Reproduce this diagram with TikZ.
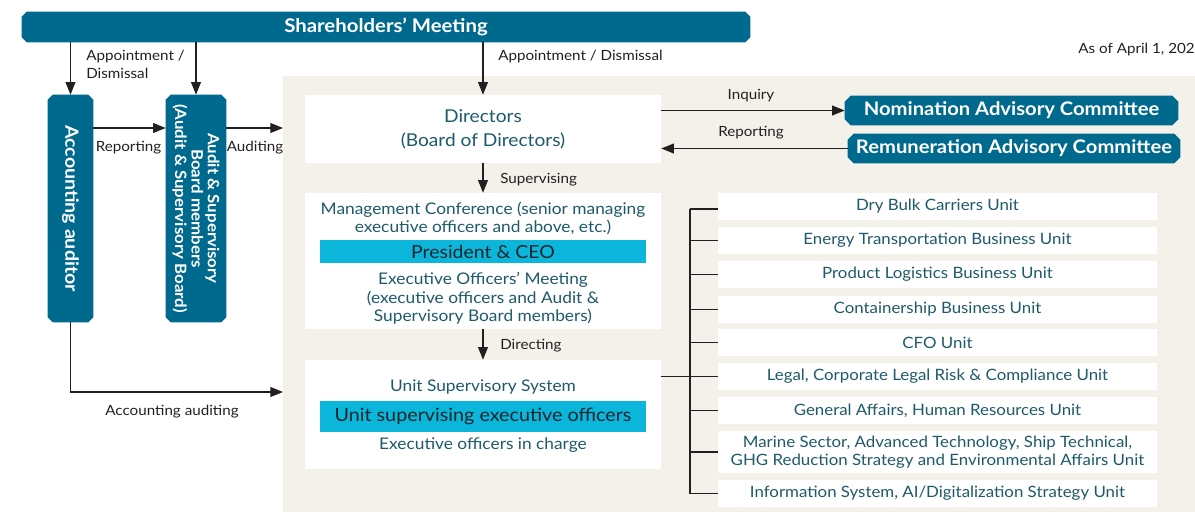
\documentclass[tikz,border=0pt]{standalone}
\usepackage{fontspec}
\setmainfont{Lato}[FakeStretch=1.08]
\usetikzlibrary{arrows.meta,calc,backgrounds}
\definecolor{dteal}{HTML}{006A8E}
\definecolor{cyanbar}{HTML}{0BB6DA}
\definecolor{tealtxt}{HTML}{1F5A6B}
\definecolor{beige}{HTML}{F4F1EA}
\definecolor{lbltxt}{HTML}{231F20}
\definecolor{bartxt}{HTML}{13262E}
\newcommand{\pp}[1]{#1*0.025cm}
\newcommand{\chamfbox}[2][5]{%
\begin{pgfonlayer}{background}
\fill[dteal] ($(#2.north west)+(#1,0)$) -- ($(#2.north east)+(-#1,0)$) -- ($(#2.north east)+(0,#1)$) -- ($(#2.south east)+(0,-#1)$) -- ($(#2.south east)+(-#1,0)$) -- ($(#2.south west)+(#1,0)$) -- ($(#2.south west)+(0,-#1)$) -- ($(#2.north west)+(0,#1)$) -- cycle;
\end{pgfonlayer}}
\begin{document}
\begin{tikzpicture}[x=0.025cm,y=-0.025cm,
  lbl/.style={font={\fontsize{10}{12.8}\selectfont}, text=lbltxt, inner sep=0, align=left},
  tbox/.style={fill=white, inner sep=0, text=tealtxt, align=center},
  ttxt/.style={inner sep=0, text=tealtxt, align=center},
  chbox/.style={inner sep=0, text=white, align=center, font={\bfseries\fontsize{13.3}{15}\selectfont}},
  cbar/.style={fill=cyanbar, inner sep=0, text=bartxt, minimum width=\pp{326}},
  unitbox/.style={fill=white, inner sep=0, text=tealtxt, align=center, minimum width=\pp{439}, minimum height=\pp{27}, font={\fontsize{11.1}{12.8}\selectfont}},
  arr/.style={line width=0.9pt, draw=lbltxt, -{Triangle[length=9pt,width=7pt]}},
  ln/.style={line width=0.9pt, draw=lbltxt}]
\useasboundingbox (0,0) rectangle (1195,512);
\begin{pgfonlayer}{background}
\fill[beige] (283,76) rectangle (1195,512);
\end{pgfonlayer}

% Shareholders
\node[chbox, minimum width=\pp{728}, minimum height=\pp{30}, font={\bfseries\fontsize{13.4}{15}\selectfont}] (sh) at (386,27) {Shareholders’ Meeting};
\chamfbox{sh}
\node[lbl, anchor=east] (asof) at (1195,50) {As of April 1, 202};

% Accounting auditor
\node[inner sep=0, minimum width=\pp{45}, minimum height=\pp{227}] (acct) at (70.5,208.5) {};
\chamfbox{acct}
\node[rotate=-90, inner sep=0, text=white, font={\bfseries\fontsize{12.9}{15}\selectfont}] (accttxt) at (acct) {Accounting auditor};

% Audit board
\node[inner sep=0, minimum width=\pp{60}, minimum height=\pp{227}] (aud) at (196,208.5) {};
\chamfbox{aud}
\node[rotate=-90, inner sep=0, text=white, align=center, font={\bfseries\fontsize{11.1}{11.6}\selectfont}] (audtxt) at (aud) {Audit \& Supervisory\\Board members\\(Audit \& Supervisory Board)};

% Directors
\node[tbox, minimum width=\pp{356}, minimum height=\pp{68}, font={\fontsize{12.6}{17}\selectfont}] (dir) at (483,129) {Directors\\(Board of Directors)};

% Management box
\node[fill=white, inner sep=0, minimum width=\pp{356}, minimum height=\pp{136}] (mgmt) at (483,261) {};
\node[ttxt, font={\fontsize{11.4}{13.4}\selectfont}] (mc) at (483,218.5) {Management Conference (senior managing\\executive officers and above, etc.)};
\node[cbar, minimum height=\pp{23}, font={\fontsize{12.8}{14}\selectfont}] (ceo) at (483,251.5) {President \& CEO};
\node[ttxt, font={\fontsize{11.4}{13.1}\selectfont}] (eom) at (483,298.5) {Executive Officers’ Meeting\\(executive officers and Audit \&\\Supervisory Board members)};

% Unit supervisory box
\node[fill=white, inner sep=0, minimum width=\pp{356}, minimum height=\pp{109}] (ubox) at (483,414.5) {};
\node[ttxt, font={\fontsize{11.4}{13}\selectfont}] (uss) at (483,387) {Unit Supervisory System};
\node[cbar, minimum height=\pp{31}, font={\fontsize{13}{15}\selectfont}] (usup) at (483,416.5) {Unit supervising executive officers};
\node[ttxt, font={\fontsize{11.4}{13}\selectfont}] (eic) at (483,445) {Executive officers in charge};

% Committees
\node[chbox, minimum width=\pp{333}, minimum height=\pp{29}] (nom) at (1011.5,110.5) {Nomination Advisory Committee};
\chamfbox[6]{nom}
\node[chbox, minimum width=\pp{332}, minimum height=\pp{29}] (rem) at (1014,148.5) {Remuneration Advisory Committee};
\chamfbox[6]{rem}

% Units
\node[unitbox] (u1) at (937.5,206.5) {Dry Bulk Carriers Unit};
\node[unitbox] (u2) at (937.5,240.5) {Energy Transportation Business Unit};
\node[unitbox] (u3) at (937.5,274.5) {Product Logistics Business Unit};
\node[unitbox] (u4) at (937.5,309.5) {Containership Business Unit};
\node[unitbox] (u5) at (937.5,342.5) {CFO Unit};
\node[unitbox] (u6) at (937.5,376.5) {Legal, Corporate Legal Risk \& Compliance Unit};
\node[unitbox] (u7) at (937.5,410.5) {General Affairs, Human Resources Unit};
\node[unitbox, minimum height=\pp{42}] (u8) at (937.5,452) {Marine Sector, Advanced Technology, Ship Technical,\\GHG Reduction Strategy and Environmental Affairs Unit};
\node[unitbox] (u9) at (937.5,493.5) {Information System, AI/Digitalization Strategy Unit};

% Connectors from Shareholders
\draw[arr] (sh.south -| acct.north) -- (acct.north);
\draw[arr] (sh.south -| aud.north) -- (aud.north);
\node[lbl, anchor=north west] (l1) at (86,50) {Appointment /\\Dismissal};
\draw[arr] (sh.south -| dir.north) -- (dir.north);
\node[lbl, anchor=west] (l2) at (498,57) {Appointment / Dismissal};

% Reporting / Auditing
\coordinate (bgedge) at (283,128);
\draw[arr] (acct.east |- bgedge) -- (aud.west |- bgedge);
\node[lbl] (l3) at (128.5,148) {Reporting};
\draw[arr] (aud.east |- bgedge) -- (bgedge);
\node[lbl] (l4) at (255,148) {Auditing};

% Accounting auditing
\coordinate (aa) at (283,392);
\draw[arr] (acct.south) |- (aa);
\node[lbl] (l5) at (172,412) {Accounting auditing};

% Vertical flow
\draw[arr] (dir.south) -- (mgmt.north);
\node[lbl, anchor=west] (l6) at (500,180) {Supervising};
\draw[arr] (mgmt.south) -- (ubox.north);
\node[lbl, anchor=west] (l7) at (500,346) {Directing};

% Committees arrows
\draw[arr] (dir.east |- nom) -- (nom.west);
\node[lbl] (l8) at (751,96) {Inquiry};
\draw[arr] (rem.west) -- (dir.east |- rem);
\node[lbl] (l9) at (751,133) {Reporting};

% Unit tree
\coordinate (trunk) at (690,0);
\draw[ln] (ubox.east |- u6) -- (trunk |- u6);
\draw[ln] (trunk |- 0,209) -- (trunk |- u9);
\draw[ln] (trunk |- 0,209) -- (u1.west |- 0,209);
\foreach \i in {2,...,9} { \draw[ln] (trunk |- u\i) -- (u\i.west); }
\end{tikzpicture}
\end{document}
